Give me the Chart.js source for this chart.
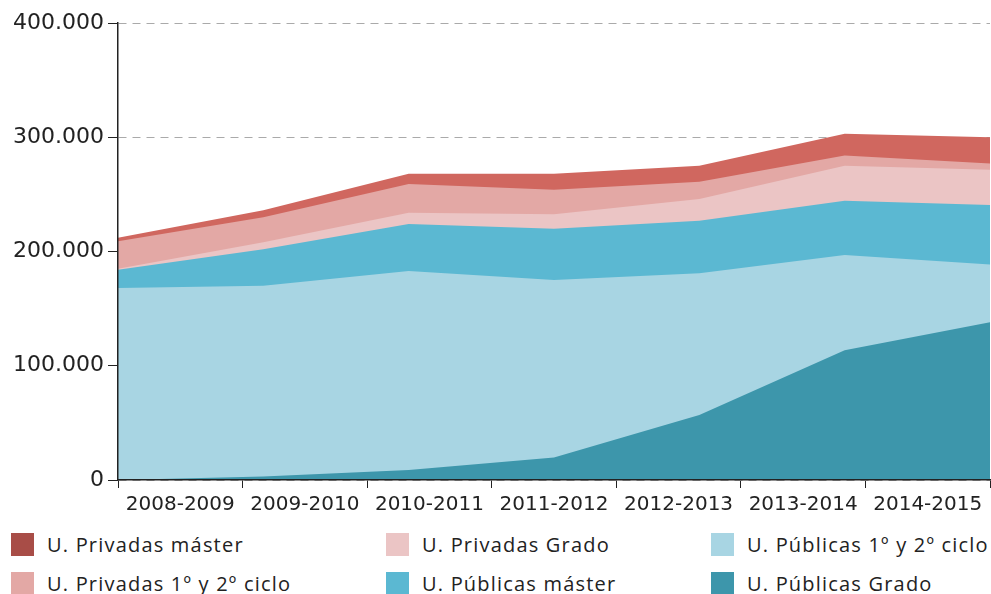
<!DOCTYPE html>
<html>
<head>
<meta charset="utf-8">
<script src="https://cdn.jsdelivr.net/npm/chart.js@4/dist/chart.umd.min.js"></script>
<style>
  html, body { margin: 0; padding: 0; background: #fff; }
  #wrap { position: absolute; left: 0; top: 0; width: 991px; height: 520px; }
  #legend { position: absolute; left: 11px; top: 533px; width: 980px; font-family: "Open Sans", "Noto Sans", sans-serif; font-size: 20px; letter-spacing: 1.2px; color: #222; }
  .item { position: absolute; display: flex; align-items: center; height: 23px; white-space: nowrap; }
  .box { width: 23px; height: 23px; margin-right: 13px; }
</style>
</head>
<body>
<div id="wrap"><canvas id="chart"></canvas></div>
<div id="legend"></div>
<script>
const YEARS = ["2008-2009", "2009-2010", "2010-2011", "2011-2012", "2012-2013", "2013-2014", "2014-2015"];

// stacked bottom to top
const PUB_GRADO  = [0, 3000, 8700, 19800, 56800, 113500, 138000];
const PUB_CICLO  = [168000, 167000, 174300, 155200, 124200, 83500, 50600];
const PUB_MASTER = [16000, 32000, 41000, 45000, 46000, 47500, 52200];
const PRIV_GRADO = [1000, 6000, 10000, 12600, 19000, 30500, 30800];
const PRIV_CICLO = [24000, 22000, 25000, 21400, 15000, 9000, 5400];
const PRIV_MASTER = [3000, 6000, 9000, 14000, 14000, 19000, 23000];

const Y_TICKS = [0, 100000, 200000, 300000, 400000];

const SERIES = [
  { label: "U. Públicas Grado", data: PUB_GRADO, color: "#3d96ab", legend: "#3d96ab" },
  { label: "U. Públicas 1º y 2º ciclo", data: PUB_CICLO, color: "#a8d5e3", legend: "#a8d5e3" },
  { label: "U. Públicas máster", data: PUB_MASTER, color: "#5bb8d2", legend: "#5bb8d2" },
  { label: "U. Privadas Grado", data: PRIV_GRADO, color: "#ebc5c5", legend: "#ebc5c5" },
  { label: "U. Privadas 1º y 2º ciclo", data: PRIV_CICLO, color: "#e3a8a5", legend: "#e3a8a5" },
  { label: "U. Privadas máster", data: PRIV_MASTER, color: "#d0675f", legend: "#a84d47" }
];

// legend placement: [series index, column, row]
const LEGEND_ORDER = [[5, 0, 0], [3, 1, 0], [1, 2, 0], [4, 0, 1], [2, 1, 1], [0, 2, 1]];
const COL_X = [0, 375, 700];
const ROW_Y = [0, 39];

const fmt = v => v.toLocaleString("de-DE");
const FONT = "'DejaVu Sans', sans-serif";

const ctx = document.getElementById('chart').getContext('2d');
new Chart(ctx, {
  type: 'line',
  data: {
    labels: YEARS,
    datasets: SERIES.map(s => ({
      label: s.label,
      data: s.data,
      backgroundColor: s.color,
      borderColor: s.color,
      borderWidth: 0,
      pointRadius: 0,
      tension: 0,
      fill: 'origin'
    }))
  },
  options: {
    responsive: true,
    maintainAspectRatio: false,
    animation: false,
    layout: { padding: { top: 23, right: 1, left: 0, bottom: 0 } },
    plugins: {
      legend: { display: false },
      tooltip: { enabled: false }
    },
    scales: {
      x: {
        type: 'category',
        display: false,
        offset: false
      },
      xLabels: {
        type: 'category',
        position: 'bottom',
        labels: YEARS,
        offset: true,
        grid: { drawOnChartArea: false, tickLength: 8, tickColor: "#222", offset: true },
        border: { color: "#222", width: 1.5, z: 1 },
        ticks: { color: "#222", font: { family: FONT, size: 20 }, padding: 5, maxRotation: 0, autoSkip: false },
        afterFit: scale => { scale.height = 40; }
      },
      y: {
        stacked: true,
        min: 0,
        max: 400000,
        afterBuildTicks: scale => { scale.ticks = Y_TICKS.map(v => ({ value: v })); },
        grid: {
          color: "#aaa",
          lineWidth: 1,
          tickBorderDash: [0, 0],
          tickColor: "#222",
          tickLength: 10
        },
        border: { color: "#222", width: 1.5, z: 1, dash: [8, 6] },
        ticks: {
          color: "#222",
          font: { family: FONT, size: 22 },
          padding: 4,
          callback: v => fmt(v)
        },
        afterFit: scale => { scale.width = 118; }
      }
    }
  }
});

const legend = document.getElementById('legend');
LEGEND_ORDER.forEach(([i, c, r]) => {
  const s = SERIES[i];
  const item = document.createElement('div');
  item.className = 'item';
  item.style.left = COL_X[c] + 'px';
  item.style.top = ROW_Y[r] + 'px';
  const box = document.createElement('span');
  box.className = 'box';
  box.style.background = s.legend;
  const txt = document.createElement('span');
  txt.textContent = s.label;
  item.appendChild(box);
  item.appendChild(txt);
  legend.appendChild(item);
});
</script>
</body>
</html>
